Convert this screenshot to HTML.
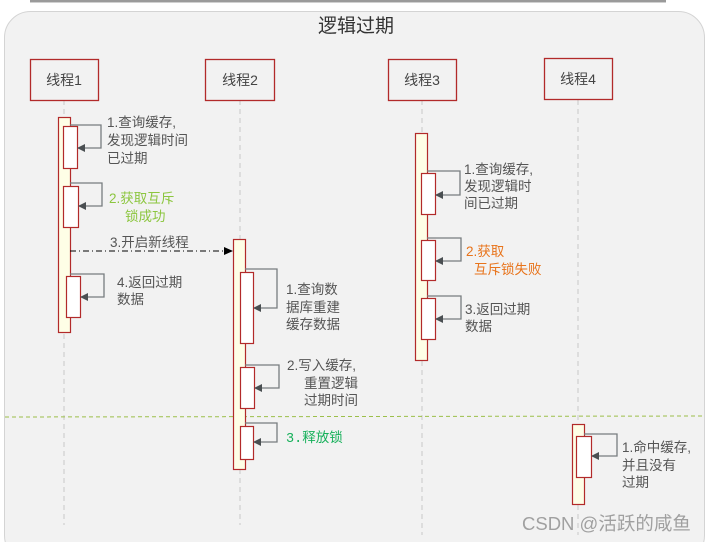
<!DOCTYPE html>
<html><head><meta charset="utf-8"><style>
html,body{margin:0;padding:0;background:#fff;width:710px;height:542px;overflow:hidden}
svg text{font-family:"Liberation Sans","Noto Sans CJK SC",sans-serif}
.m{font-family:"Liberation Mono","Noto Sans CJK SC",monospace}
</style></head><body>
<svg width="710" height="542" viewBox="0 0 710 542" xmlns="http://www.w3.org/2000/svg">
<defs>
<marker id="a" markerWidth="8" markerHeight="8" refX="7" refY="4" orient="auto" markerUnits="userSpaceOnUse"><path d="M0,0 L8,4 L0,8 z" fill="#4a4f52"/></marker>
<marker id="b" markerWidth="9" markerHeight="8" refX="8" refY="4" orient="auto" markerUnits="userSpaceOnUse"><path d="M0,0 L9,4 L0,8 z" fill="#000"/></marker>
</defs>
<rect x="30" y="0" width="636" height="2" fill="#9a9a9a"/>
<rect x="30" y="2" width="636" height="1" fill="#d0d0d0"/>
<rect x="4.5" y="11.5" width="700" height="550" rx="26" fill="#f2f2f2" stroke="#d4d4d4"/>
<text x="356" y="32" font-size="19" fill="#333" text-anchor="middle">逻辑过期</text>
<g stroke="#c8c8c8" stroke-dasharray="5,4" stroke-width="1">
<line x1="64" y1="100" x2="64" y2="525"/><line x1="240" y1="100" x2="240" y2="525"/>
<line x1="422" y1="100" x2="422" y2="535"/><line x1="578" y1="100" x2="578" y2="535"/>
</g>
<g fill="#f2f2f2" stroke="#b22a2a" stroke-width="1.3">
<rect x="30.5" y="59.5" width="68" height="41"/><rect x="205.5" y="59.5" width="69" height="41"/>
<rect x="388.5" y="59.5" width="68" height="41"/><rect x="544.5" y="58.5" width="68" height="41"/>
</g>
<g font-size="14" fill="#444" text-anchor="middle">
<text x="64" y="85">线程1</text><text x="240" y="85">线程2</text><text x="422" y="85">线程3</text><text x="578" y="84">线程4</text>
</g>
<line x1="5" y1="417" x2="705" y2="416" stroke="#9cbf4a" stroke-dasharray="4,3" stroke-width="1"/>
<g fill="#fefee6" stroke="#b22a2a" stroke-width="1.2">
<rect x="58.5" y="117.5" width="12" height="215"/>
<rect x="233.5" y="239.5" width="12" height="230"/>
<rect x="415.5" y="133.5" width="12" height="227"/>
<rect x="572.5" y="424.5" width="12" height="80"/>
</g>
<g fill="#fff" stroke="#b22a2a" stroke-width="1.2">
<rect x="63.5" y="126.5" width="14" height="42"/>
<rect x="63.5" y="186.5" width="15" height="41"/>
<rect x="66.5" y="276.5" width="14" height="41"/>
<rect x="240.5" y="272.5" width="13" height="71"/>
<rect x="240.5" y="367.5" width="14" height="41"/>
<rect x="240.5" y="426.5" width="13" height="33"/>
<rect x="421.5" y="173.5" width="14" height="41"/>
<rect x="421.5" y="240.5" width="14" height="40"/>
<rect x="421.5" y="298.5" width="14" height="41"/>
<rect x="576.5" y="436.5" width="15" height="41"/>
</g>
<g fill="none" stroke="#777c7f" stroke-width="1.3" marker-end="url(#a)">
<path d="M70,125 H101 V148 H78"/>
<path d="M70,183 H102 V206 H79"/>
<path d="M70,274 H104 V297 H81"/>
<path d="M245,269 H277 V308 H254"/>
<path d="M245,365 H279 V388 H255"/>
<path d="M245,423 H277 V442 H254"/>
<path d="M427,171 H460 V195 H436"/>
<path d="M427,238 H461 V261 H436"/>
<path d="M427,296 H461 V319 H436"/>
<path d="M584,434 H617 V456 H592"/>
</g>
<line x1="70" y1="251" x2="232" y2="251" stroke="#000" stroke-width="1" stroke-dasharray="6,3,1,3" marker-end="url(#b)"/>
<g font-size="13.5" fill="#555" class="m">
<text x="107" y="127">1.查询缓存,</text><text x="107" y="145">发现逻辑时间</text><text x="107" y="163">已过期</text>
<text x="110" y="247">3.开启新线程</text>
<text x="117" y="287">4.返回过期</text><text x="117" y="304">数据</text>
<text x="286" y="294">1.查询数</text><text x="286" y="312">据库重建</text><text x="286" y="329">缓存数据</text>
<text x="287" y="370">2.写入缓存,</text><text x="304" y="388">重置逻辑</text><text x="304" y="405">过期时间</text>
<text x="464" y="174">1.查询缓存,</text><text x="464" y="191">发现逻辑时</text><text x="464" y="208">间已过期</text>
<text x="465" y="314">3.返回过期</text><text x="465" y="331">数据</text>
<text x="622" y="452">1.命中缓存,</text><text x="622" y="470">并且没有</text><text x="622" y="487">过期</text>
</g>
<g font-size="13.5" fill="#8cc63f" class="m"><text x="109" y="203">2.获取互斥</text><text x="125" y="221">锁成功</text></g>
<g font-size="13.5" fill="#e8731a" class="m"><text x="466" y="256">2.获取</text><text x="474" y="274">互斥锁失败</text></g>
<text x="286" y="442" font-size="13.5" fill="#16b05a" class="m">3.释放锁</text>
<text x="522" y="530" font-size="18.5" fill="#a0a0a0">CSDN @活跃的咸鱼</text>
</svg>
</body></html>
